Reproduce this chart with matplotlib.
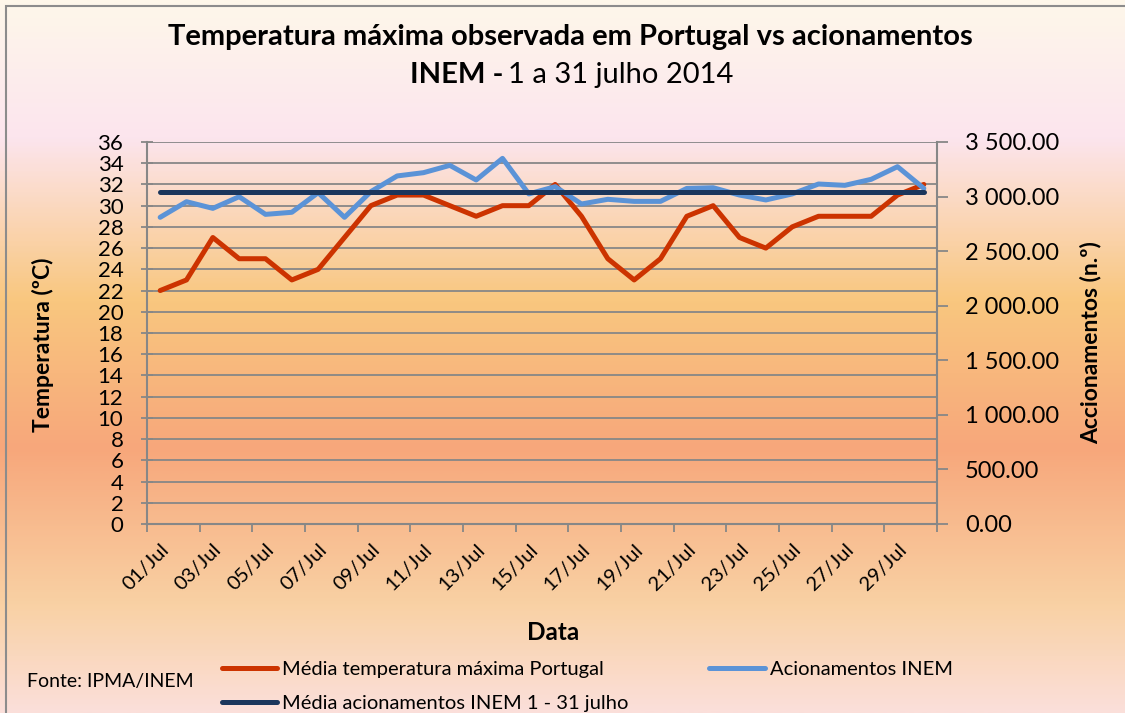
import numpy as np
import matplotlib
matplotlib.use("Agg")
import matplotlib.pyplot as plt
from matplotlib.colors import LinearSegmentedColormap
from matplotlib.patches import Rectangle
from matplotlib.ticker import FuncFormatter, MultipleLocator

plt.rcParams['font.family'] = ['Lato', 'DejaVu Sans']

# dados diarios, 1 a 30 julho 2014
dias = [f"{d:02d}/Jul" for d in range(1, 31)]
temp_max = [22, 23, 27, 25, 25, 23, 24, 27, 30, 31, 31, 30, 29, 30, 30,
            32, 29, 25, 23, 25, 29, 30, 27, 26, 28, 29, 29, 29, 31, 32]
acionamentos = [2810, 2953, 2892, 2999, 2837, 2856, 3036, 2810, 3045, 3189,
                3219, 3286, 3152, 3350, 3024, 3091, 2932, 2975, 2956, 2956,
                3075, 3081, 3014, 2969, 3024, 3115, 3103, 3158, 3274, 3075]
media_acionamentos = 3042

c_red = '#CC3300'
c_blue = '#5B93D7'
c_navy = '#1B365C'
c_grid = '#878787'

W, H = 1125, 713
fig = plt.figure(figsize=(W / 100, H / 100), dpi=100)

# fundo em degrade
bg = fig.add_axes([0, 0, 1, 1], zorder=-10)
cmap = LinearSegmentedColormap.from_list('fundo', [
    (0.0, '#FEF7EA'), (0.19, '#FCE5EE'), (0.42, '#F9C77F'),
    (0.63, '#F7A77B'), (0.85, '#F9D1A4'), (1.0, '#FBDFDA')])
grad = np.linspace(0, 1, 400).reshape(-1, 1)
bg.imshow(grad, aspect='auto', cmap=cmap, extent=[0, 1, 0, 1], origin='upper')
bg.axis('off')
fig.patches.append(Rectangle((6 / W, -0.1), 1.2, 1 - 6 / H + 0.1, transform=fig.transFigure,
                             fill=False, edgecolor='#8C8C8C', linewidth=1.5))

ax = fig.add_axes([147 / W, (H - 524) / H, 790 / W, 382 / H])
ax.patch.set_alpha(0)
x = np.arange(len(dias))

lw = 3.6
l1, = ax.plot(x, temp_max, color=c_red, linewidth=lw, solid_capstyle='round',
              label='Média temperatura máxima Portugal')
ax.set_ylim(0, 36)
ax.set_xlim(-0.5, len(dias) - 0.5)
ax.yaxis.set_major_locator(MultipleLocator(2))
ax.grid(axis='y', color=c_grid, linewidth=1.3)
ax.set_axisbelow(True)
for s in ['top', 'right']:
    ax.spines[s].set_visible(False)
for s in ['left', 'bottom']:
    ax.spines[s].set_color(c_grid)
    ax.spines[s].set_linewidth(1.5)
ax.tick_params(axis='y', direction='inout', length=8, width=1.3, color=c_grid,
               labelsize=16, pad=13)

ax.set_xticks(x[::2])
ax.set_xticklabels(dias[::2], rotation=45, ha='right', va='top',
                   rotation_mode='anchor', fontsize=14.5)
ax.set_xticks(np.arange(-0.5, len(dias), 2), minor=True)
ax.tick_params(axis='x', which='major', length=0, pad=12)
ax.tick_params(axis='x', which='minor', length=6, width=1.3, color=c_grid)

ax.set_ylabel('Temperatura (ºC)', fontsize=16.5, fontweight='bold')
ax.yaxis.set_label_coords(-0.118, 0.47)

ax2 = ax.twinx()
ax2.patch.set_alpha(0)
l2, = ax2.plot(x, acionamentos, color=c_blue, linewidth=lw, solid_capstyle='round',
               label='Acionamentos INEM')
l3, = ax2.plot(x, [media_acionamentos] * len(x), color=c_navy, linewidth=lw,
               solid_capstyle='round', label='Média acionamentos INEM 1 - 31 julho')
ax2.set_ylim(0, 3500)
ax2.yaxis.set_major_locator(MultipleLocator(500))
ax2.yaxis.set_major_formatter(FuncFormatter(lambda v, p: f"{v:,.2f}".replace(',', ' ')))
for s in ['top', 'left', 'bottom']:
    ax2.spines[s].set_visible(False)
ax2.spines['right'].set_color(c_grid)
ax2.spines['right'].set_linewidth(1.5)
ax2.tick_params(axis='y', direction='out', length=8, width=1.3, color=c_grid,
                labelsize=17, pad=12)
ax2.set_ylabel('Accionamentos (n.º)', fontsize=16.5, fontweight='bold')
ax2.yaxis.set_label_coords(1.181, 0.475)

# titulo
fig.text(570 / W, 1 - 37 / H, 'Temperatura máxima observada em Portugal vs acionamentos',
         ha='center', va='center', fontsize=21, fontweight='bold')
fig.text(503 / W, 1 - 75 / H, 'INEM -', ha='right', va='center', fontsize=21, fontweight='bold')
fig.text(508 / W, 1 - 75 / H, '1 a 31 julho 2014', ha='left', va='center', fontsize=21)

fig.text(553 / W, 1 - 633 / H, 'Data', ha='center', va='center', fontsize=17.5, fontweight='bold')
fig.text(27 / W, 1 - 681 / H, 'Fonte: IPMA/INEM', ha='left', va='center', fontsize=14)

fig.legend(handles=[l1, l3, l2], loc='upper left', bbox_to_anchor=(222 / W, 1 - 661 / H),
           ncol=2, frameon=False, fontsize=14.5, handlelength=2.75, handletextpad=0.25,
           columnspacing=4.0, labelspacing=0.85, borderaxespad=0, borderpad=0)

fig.savefig('out.png', dpi=100)
